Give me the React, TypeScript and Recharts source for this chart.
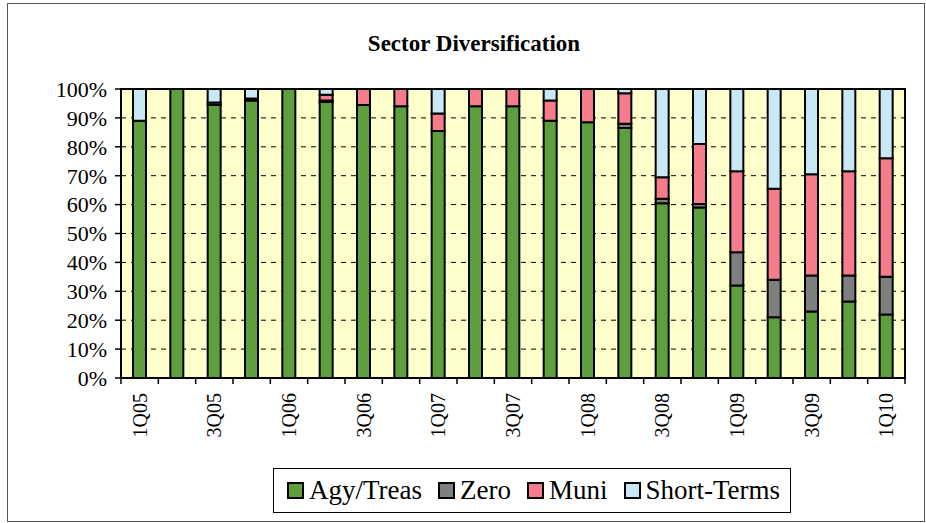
import { Bar, BarChart, CartesianGrid, ReferenceArea, XAxis, YAxis } from "recharts";

const quarters = ["1Q05", "2Q05", "3Q05", "4Q05", "1Q06", "2Q06", "3Q06", "4Q06", "1Q07", "2Q07", "3Q07", "4Q07", "1Q08", "2Q08", "3Q08", "4Q08", "1Q09", "2Q09", "3Q09", "4Q09", "1Q10"];
const agyTreas = [89, 100, 94.5, 96, 100, 95.5, 94.5, 94, 85.5, 94, 94, 89, 88.5, 86.5, 60.5, 59, 32, 21, 23, 26.5, 22];
const zero = [0, 0, 0.8, 0.7, 0, 0.5, 0, 0, 0, 0, 0, 0, 0, 1.5, 1.5, 1.2, 11.5, 13, 12.5, 9, 13];
const muni = [0, 0, 0, 0, 0, 2, 5.5, 6, 6, 6, 6, 7, 11.5, 10.5, 7.5, 20.8, 28, 31.5, 35, 36, 41];
const shortTerms = [11, 0, 4.7, 3.3, 0, 2, 0, 0, 8.5, 0, 0, 4, 0, 1.5, 30.5, 19, 28.5, 34.5, 29.5, 28.5, 24];
const yTicks = [0, 10, 20, 30, 40, 50, 60, 70, 80, 90, 100];

const data = quarters.map((q, i) => ({
  name: q,
  agy: agyTreas[i],
  zero: zero[i],
  muni: muni[i],
  short: shortTerms[i],
}));

const series = [
  { key: "agy", label: "Agy/Treas", color: "#5e9e3c" },
  { key: "zero", label: "Zero", color: "#7f7f7f" },
  { key: "muni", label: "Muni", color: "#f47c8c" },
  { key: "short", label: "Short-Terms", color: "#c8e8f6" },
];

const FONT = "'Liberation Serif', 'Times New Roman', serif";
const W = 926;
const H = 523;
const PLOT_W = 784;
const band = PLOT_W / quarters.length;

const QuarterTick = (props: any) => {
  const { x, y, payload } = props;
  const idx = payload.index;
  return (
    <g>
      <line x1={x - band / 2} x2={x - band / 2} y1={y} y2={y + 6} stroke="#000" strokeWidth={1.5} />
      {idx === quarters.length - 1 && (
        <line x1={x + band / 2} x2={x + band / 2} y1={y} y2={y + 6} stroke="#000" strokeWidth={1.5} />
      )}
      {idx % 2 === 0 && (
        <text
          x={0}
          y={0}
          transform={`translate(${x + 7},${y + 15}) rotate(-90)`}
          textAnchor="end"
          fontSize={20}
          fontFamily={FONT}
          fill="#000"
        >
          {payload.value}
        </text>
      )}
    </g>
  );
};

const LegendBox = () => (
  <div
    style={{
      position: "absolute",
      left: 273,
      top: 468,
      width: 518,
      height: 45,
      border: "1px solid #000",
      display: "flex",
      alignItems: "center",
      justifyContent: "flex-start",
      paddingLeft: 13,
      gap: 16,
      fontFamily: FONT,
      fontSize: 27,
      color: "#000",
      boxSizing: "border-box",
      whiteSpace: "nowrap",
    }}
  >
    {series.map((s) => (
      <span key={s.key} style={{ display: "flex", alignItems: "center" }}>
        <span
          style={{
            display: "inline-block",
            width: 13,
            height: 13,
            background: s.color,
            border: "2px solid #000",
            marginRight: 5,
          }}
        />
        {s.label}
      </span>
    ))}
  </div>
);

export default function App() {
  return (
    <div style={{ position: "absolute", left: 0, top: 0, width: W, height: H, background: "#fff" }}>
      <div
        style={{
          position: "absolute",
          left: 7,
          top: 3,
          width: 916,
          height: 517,
          border: "1px solid #555",
        }}
      />
      <div
        style={{
          position: "absolute",
          top: 31,
          left: 11,
          width: W,
          textAlign: "center",
          fontFamily: FONT,
          fontWeight: "bold",
          fontSize: 23,
          color: "#000",
        }}
      >
        Sector Diversification
      </div>
      <BarChart
        width={W}
        height={H}
        data={data}
        margin={{ top: 89, right: 21, left: 0, bottom: 75 }}
        barSize={13}
        style={{ position: "absolute", left: 0, top: 0 }}
      >
        <CartesianGrid
          vertical={false}
          stroke="#000"
          strokeDasharray="5 5"
          fill="#ffffcc"
          fillOpacity={1}
        />
        <XAxis
          dataKey="name"
          interval={0}
          axisLine={false}
          tickLine={false}
          tickSize={0}
          tickMargin={0}
          height={70}
          tick={<QuarterTick />}
        />
        <YAxis
          width={121}
          domain={[0, 100]}
          ticks={yTicks}
          interval={0}
          allowDataOverflow
          tickFormatter={(v) => `${v}%`}
          axisLine={false}
          tickLine={{ stroke: "#000", strokeWidth: 1.5 }}
          tickSize={6}
          tickMargin={8}
          tick={{ fontSize: 22, fontFamily: FONT, fill: "#000" }}
        />
        {series.map((s) => (
          <Bar
            key={s.key}
            dataKey={s.key}
            name={s.label}
            stackId="a"
            fill={s.color}
            stroke="#000"
            strokeWidth={2}
            isAnimationActive={false}
          />
        ))}
        <ReferenceArea y1={0} y2={100} fill="none" stroke="#000" strokeWidth={2} ifOverflow="visible" />
      </BarChart>
      <LegendBox />
    </div>
  );
}
